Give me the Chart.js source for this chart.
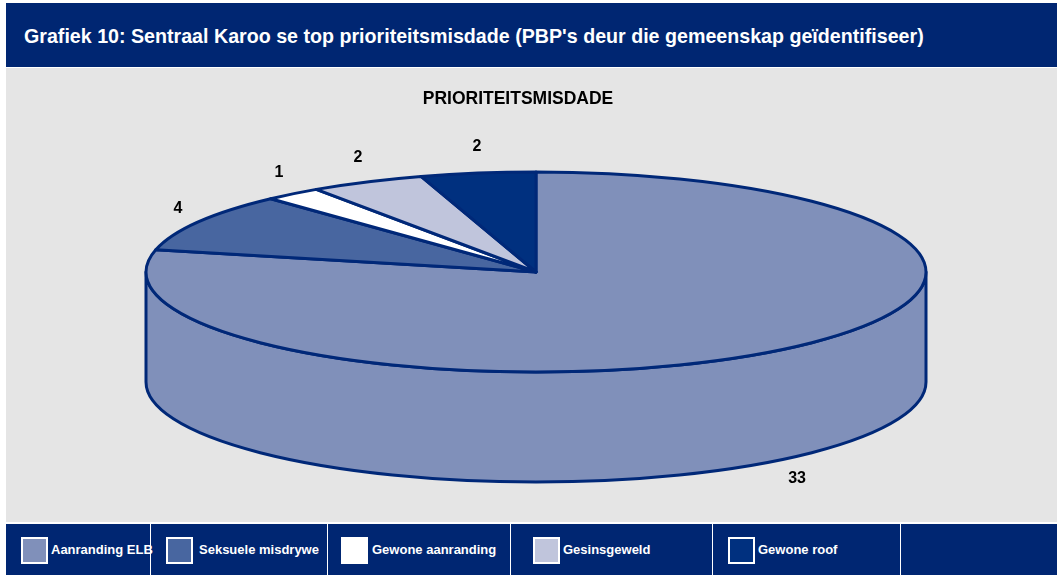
<!DOCTYPE html>
<html>
<head>
<meta charset="utf-8">
<script src="https://cdn.jsdelivr.net/npm/chart.js@4/dist/chart.umd.min.js"></script>
<style>
  html, body { margin: 0; padding: 0; background: #ffffff; }
  body { width: 1057px; height: 575px; position: relative; overflow: hidden; font-family: "Liberation Sans", Arial, sans-serif; }
  #header { position: absolute; left: 6px; top: 3px; width: 1051px; height: 64px; background: #002672; }
  #header span { position: absolute; left: 18px; top: 22px; color: #fff; font-weight: bold; font-size: 18px; white-space: nowrap; }
  #plot { position: absolute; left: 6px; top: 68px; width: 1051px; height: 454px; background: #E5E5E5; }
  #ctitle { position: absolute; left: 0; width: 1024px; top: 20px; line-height: 20px; text-align: center; font-weight: bold; font-size: 17.5px; color: #000; }
  #c { position: absolute; left: 0; top: 0; }
  #legend { position: absolute; left: 6px; top: 524px; width: 1051px; height: 51px; background: #002672; display: flex; }
  .cell { position: relative; height: 51px; border-right: 1px solid #ffffff; box-sizing: border-box; }
  .sw { position: absolute; top: 13px; width: 23px; height: 23px; border: 2px solid #ffffff; }
  .lt { position: absolute; top: 18px; color: #fff; font-weight: bold; font-size: 13px; white-space: nowrap; }
</style>
</head>
<body>
<div id="header"><span id="htxt">Grafiek 10: Sentraal Karoo se top prioriteitsmisdade (PBP's deur die gemeenskap geïdentifiseer)</span></div>
<div id="plot"><canvas id="c" width="1051" height="454"></canvas><div id="ctitle"></div></div>
<div id="legend"></div>
<script>
// ---- data ----
const categories = ["Aanranding ELB", "Seksuele misdrywe", "Gewone aanranding", "Gesinsgeweld", "Gewone roof"];
const values = [33, 4, 1, 2, 2];
const sliceColors = ["#8090BA", "#4866A0", "#FFFFFF", "#C0C5DC", "#00307F"];
const chartTitle = "PRIORITEITSMISDADE";

// ---- layout constants ----
const OUTLINE = "#002878";
const TILT = 100 / 390;
const DEPTH = 110;
const legendCellWidths = [145, 177, 183, 202, 188, 156];
const legendSwatchX = [15, 15, 13, 22, 15];
const legendTextX = [45, 48, 44, 52, 45];

document.getElementById('ctitle').textContent = chartTitle;

// fit header text width
(function(){
  const s = document.getElementById('htxt');
  const w = s.getBoundingClientRect().width;
  s.style.fontSize = (18 * 900 / w).toFixed(2) + 'px';
})();

// HTML legend built from the data arrays
(function(){
  const lg = document.getElementById('legend');
  legendCellWidths.forEach((w, i) => {
    const cell = document.createElement('div');
    cell.className = 'cell';
    cell.style.width = w + 'px';
    if (i < categories.length) {
      const sw = document.createElement('div');
      sw.className = 'sw';
      sw.style.left = legendSwatchX[i] + 'px';
      sw.style.background = sliceColors[i];
      const t = document.createElement('div');
      t.className = 'lt';
      t.style.left = legendTextX[i] + 'px';
      t.textContent = categories[i];
      cell.appendChild(sw); cell.appendChild(t);
    } else {
      cell.style.borderRight = 'none';
    }
    lg.appendChild(cell);
  });
})();

function ellPt(cx, cy, rx, ry, a) {
  return [cx + rx * Math.cos(a), cy + ry * Math.sin(a)];
}

const pie3d = {
  id: 'pie3d',
  beforeDatasetsDraw(chart) {
    const ctx = chart.ctx;
    const meta = chart.getDatasetMeta(0);
    const arcs = meta.data;
    const data = chart.data.datasets[0].data;
    const colors = chart.data.datasets[0].backgroundColor;
    if (!arcs.length) return false;
    const cx = arcs[0].x, cy = arcs[0].y, rx = arcs[0].outerRadius, ry = rx * TILT;
    ctx.save();
    ctx.lineWidth = 3;
    ctx.strokeStyle = OUTLINE;
    ctx.lineJoin = 'round';
    // side walls (front half only)
    arcs.forEach((arc, i) => {
      const s = arc.startAngle, e = arc.endAngle;
      for (let k = -1; k <= 1; k++) {
        const lo = Math.max(s, 2 * Math.PI * k), hi = Math.min(e, 2 * Math.PI * k + Math.PI);
        if (hi > lo) {
          ctx.beginPath();
          const p1 = ellPt(cx, cy, rx, ry, lo);
          ctx.moveTo(p1[0], p1[1]);
          ctx.ellipse(cx, cy, rx, ry, 0, lo, hi, false);
          const p2 = ellPt(cx, cy + DEPTH, rx, ry, hi);
          ctx.lineTo(p2[0], p2[1]);
          ctx.ellipse(cx, cy + DEPTH, rx, ry, 0, hi, lo, true);
          ctx.closePath();
          ctx.fillStyle = colors[i];
          ctx.fill();
          ctx.stroke();
        }
      }
    });
    // top faces
    arcs.forEach((arc, i) => {
      ctx.beginPath();
      ctx.moveTo(cx, cy);
      ctx.ellipse(cx, cy, rx, ry, 0, arc.startAngle, arc.endAngle, false);
      ctx.closePath();
      ctx.fillStyle = colors[i];
      ctx.fill();
      ctx.stroke();
    });
    // data labels
    ctx.fillStyle = '#000';
    ctx.font = 'bold 16px "Liberation Sans", Arial, sans-serif';
    ctx.textAlign = 'center';
    ctx.textBaseline = 'middle';
    arcs.forEach((arc, i) => {
      const m = (arc.startAngle + arc.endAngle) / 2;
      const p = ellPt(cx, cy, rx, ry, m);
      const dy = Math.sin(m) > 0 ? DEPTH : 0;
      const off = Math.sin(m) > 0 ? 24 : 27;
      ctx.fillText(String(data[i]), p[0] + off * Math.cos(m) + 3, p[1] + dy + off * Math.sin(m));
    });
    ctx.restore();
    return false;
  }
};

new Chart(document.getElementById('c'), {
  type: 'pie',
  data: {
    labels: categories,
    datasets: [{ data: values, backgroundColor: sliceColors, borderColor: OUTLINE, borderWidth: 3, radius: 390 }]
  },
  options: {
    responsive: false,
    animation: false,
    events: [],
    layout: { padding: { left: 9, right: 0, top: 50, bottom: 96 } },
    plugins: {
      legend: { display: false },
      tooltip: { enabled: false },
      title: { display: false }
    }
  },
  plugins: [pie3d]
});
</script>
</body>
</html>
